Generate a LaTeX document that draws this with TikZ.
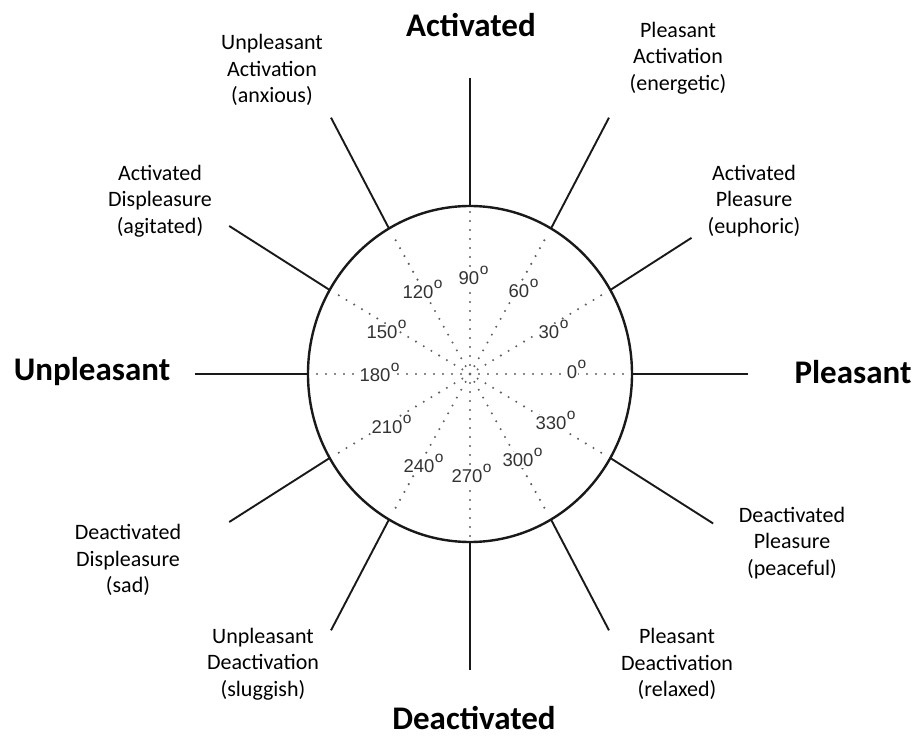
\documentclass[tikz,border=0pt]{standalone}
\usepackage{fontspec}
\setmainfont{Carlito}
\newfontfamily\degfont{Liberation Sans}
\usepackage{tikz}
\colorlet{dotgray}{black!62}
\colorlet{deggray}{black!80}
\tikzset{
  emotion/.style={align=center, font=\fontsize{22}{26.5}\selectfont, inner sep=0pt},
  axislabel/.style={font=\fontsize{33}{40}\selectfont\bfseries, inner sep=0pt},
  degree/.style={font=\degfont\fontsize{18.5}{20}\selectfont, text=deggray, fill=white, inner sep=1pt},
  ray/.style={dotgray, line width=2.3pt, line cap=round, dash pattern=on 0pt off 9pt},
  spoke/.style={line width=1.9pt, black!90},
}
\newcommand{\degmark}[1]{#1\rlap{\hspace{0.5pt}\smash{\raisebox{10pt}{\fontsize{15.5}{15.5}\selectfont o}}}}

\begin{document}
\begin{tikzpicture}[x=1pt, y=1pt]
  \useasboundingbox (-470,-362) rectangle (446,374);

  % ---------- Dotted rays ----------
  \foreach \a in {0,30,...,330}
    \draw[ray] (0,0) -- (\a:157pt and 163pt);

  % ---------- Degree labels ----------
  \foreach \a/\x/\y in {0/102/2, 30/79/42, 60/49/83, 90/-1/96, 120/-52/82, 150/-88/42,
                        180/-95/-1, 210/-83/-53, 240/-51/-92, 270/-3/-102, 300/48/-86, 330/81/-49}
    \node[degree] at (\x, \y) (deg\a) {\degmark{\a}};

  % ---------- Circle and spokes ----------
  \draw[line width=2.4pt, black!90] (0,0) ellipse (162pt and 168pt);
  \foreach \a/\f in {0/1, 30/0.92, 60/1, 90/1, 120/1, 150/1,
                     180/0.99, 210/1, 240/1, 270/1, 300/1, 330/1.01}
    \draw[spoke] (\a:162pt and 168pt) -- (\a:{278pt*\f} and {296pt*\f});

  % ---------- Axis labels ----------
  \node[axislabel] at (1, 349) (act) {Activated};
  \node[axislabel] at (4, -344) (deact) {Deactivated};
  \node[axislabel] at (-378, 2) (unpl) {Unpleasant};
  \node[axislabel] at (383, 2) (pleas) {Pleasant};

  % ---------- Emotion labels ----------
  \node[emotion] at (-198, 304) (ua) {Unpleasant\\Activation\\(anxious)};
  \node[emotion] at (208, 316) (pa) {Pleasant\\Activation\\(energetic)};
  \node[emotion] at (-310, 173) (ad) {Activated\\Displeasure\\(agitated)};
  \node[emotion] at (284, 173) (ap) {Activated\\Pleasure\\(euphoric)};
  \node[emotion] at (-342, -186) (dd) {Deactivated\\Displeasure\\(sad)};
  \node[emotion] at (322, -169) (dp) {Deactivated\\Pleasure\\(peaceful)};
  \node[emotion] at (-207, -290) (ud) {Unpleasant\\Deactivation\\(sluggish)};
  \node[emotion] at (207, -290) (pd) {Pleasant\\Deactivation\\(relaxed)};
\end{tikzpicture}
\end{document}
